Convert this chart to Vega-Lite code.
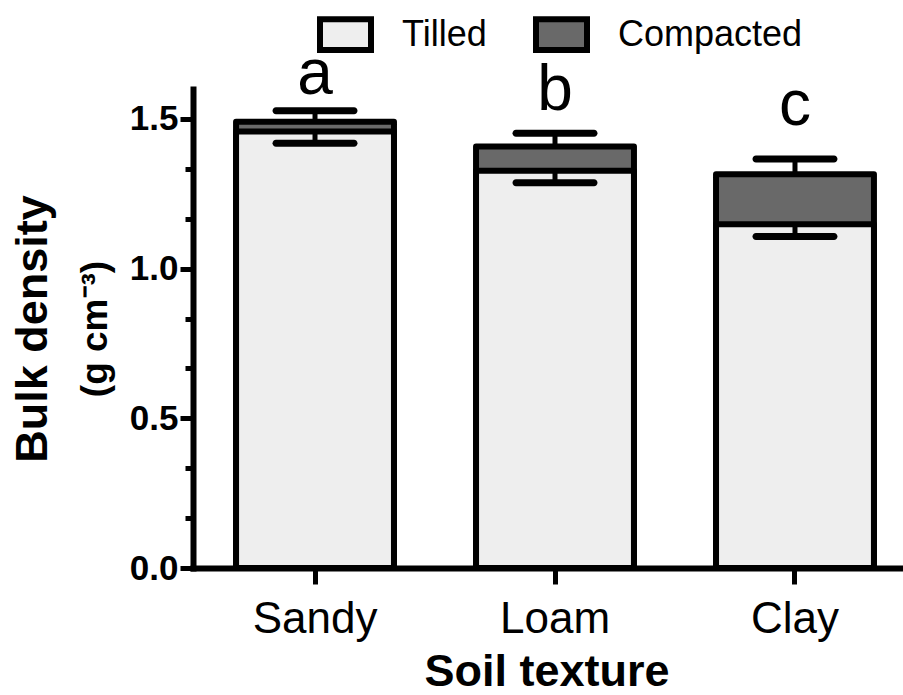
{
  "$schema": "https://vega.github.io/schema/vega-lite/v6.json",
  "width": 707,
  "height": 479,
  "autosize": {"type": "none"},
  "padding": {"left": 193, "top": 89, "right": 3, "bottom": 127},
  "background": "white",
  "config": {
    "view": {"stroke": null},
    "font": "Liberation Sans",
    "axis": {"grid": false, "domainColor": "black", "tickColor": "black", "labelColor": "black", "titleColor": "black", "domainCap": "square"}
  },
  "datasets": {
    "bars": [
      {"soil": "Sandy", "treatment": "Compacted", "mean": 1.491, "err": 1.527},
      {"soil": "Loam", "treatment": "Compacted", "mean": 1.408, "err": 1.452},
      {"soil": "Clay", "treatment": "Compacted", "mean": 1.315, "err": 1.366},
      {"soil": "Sandy", "treatment": "Tilled", "mean": 1.458, "err": 1.419},
      {"soil": "Loam", "treatment": "Tilled", "mean": 1.327, "err": 1.287},
      {"soil": "Clay", "treatment": "Tilled", "mean": 1.148, "err": 1.107}
    ],
    "letters": [
      {"soil": "Sandy", "letter": "a", "pos": 1.584},
      {"soil": "Loam", "letter": "b", "pos": 1.53},
      {"soil": "Clay", "letter": "c", "pos": 1.48}
    ]
  },
  "resolve": {"axis": {"y": "independent"}},
  "layer": [
    {
      "data": {"name": "bars"},
      "mark": {"type": "bar", "stroke": "black", "strokeWidth": 6, "strokeJoin": "round"},
      "encoding": {
        "x": {
          "field": "soil", "type": "nominal", "sort": ["Sandy", "Loam", "Clay"],
          "scale": {"paddingInner": 0.342, "paddingOuter": 0.144, "align": 0.623},
          "axis": {
            "title": "Soil texture", "titleFontSize": 45, "titleFontWeight": "bold", "titlePadding": 8,
            "labelFontSize": 44, "labelAngle": 0, "labelPadding": 13,
            "tickSize": 16, "tickWidth": 5, "domainWidth": 6
          }
        },
        "y": {
          "field": "mean", "type": "quantitative", "stack": null,
          "scale": {"domain": [0, 1.6], "nice": false},
          "axis": {
            "orient": "left",
            "values": [0, 0.5, 1, 1.5], "format": ".1f",
            "title": "Bulk density", "titleFontSize": 45, "titleFontWeight": "bold", "titlePadding": 74,
            "labelFontSize": 35, "labelFontWeight": "bold", "labelPadding": 2,
            "tickSize": 13, "tickWidth": 5, "domainWidth": 6
          }
        },
        "fill": {
          "field": "treatment", "type": "nominal",
          "scale": {"domain": ["Tilled", "Compacted"], "range": ["#eeeeee", "#696969"]},
          "legend": {
            "orient": "none", "legendX": 124, "legendY": -83, "direction": "horizontal",
            "title": null,
            "symbolType": "M-1,-0.6H1V0.6H-1Z", "symbolSize": 2601,
            "symbolStrokeWidth": 6, "symbolStrokeColor": "black", "symbolOpacity": 1,
            "labelFontSize": 36, "labelColor": "black", "labelOffset": 28, "columnPadding": 37, "labelLimit": 400
          }
        }
      }
    },
    {
      "data": {"name": "bars"},
      "mark": {"type": "rule", "color": "black", "strokeWidth": 5},
      "encoding": {
        "x": {"field": "soil", "type": "nominal", "sort": ["Sandy", "Loam", "Clay"]},
        "y": {
          "field": "mean", "type": "quantitative",
          "scale": {"domain": [0, 1.6], "nice": false},
          "axis": {
            "orient": "left",
            "values": [0.16667, 0.33333, 0.66667, 0.83333, 1.16667, 1.33333],
            "labels": false, "domain": false,
            "tickSize": 8, "tickWidth": 5,
            "title": "(g cm⁻³)", "titleFontSize": 37, "titleFontWeight": "bold", "titlePadding": 68
          }
        },
        "y2": {"field": "err"}
      }
    },
    {
      "data": {"name": "bars"},
      "mark": {"type": "tick", "orient": "horizontal", "color": "black", "opacity": 1, "size": 85, "thickness": 7, "cornerRadius": 3.5},
      "encoding": {
        "x": {"field": "soil", "type": "nominal", "sort": ["Sandy", "Loam", "Clay"]},
        "y": {"field": "err", "type": "quantitative", "scale": {"domain": [0, 1.6], "nice": false}, "axis": null}
      }
    },
    {
      "data": {"name": "letters"},
      "mark": {"type": "text", "fontSize": 64, "baseline": "alphabetic", "align": "center", "color": "black"},
      "encoding": {
        "x": {"field": "soil", "type": "nominal", "sort": ["Sandy", "Loam", "Clay"]},
        "y": {"field": "pos", "type": "quantitative", "scale": {"domain": [0, 1.6], "nice": false}, "axis": null},
        "text": {"field": "letter"}
      }
    }
  ]
}
